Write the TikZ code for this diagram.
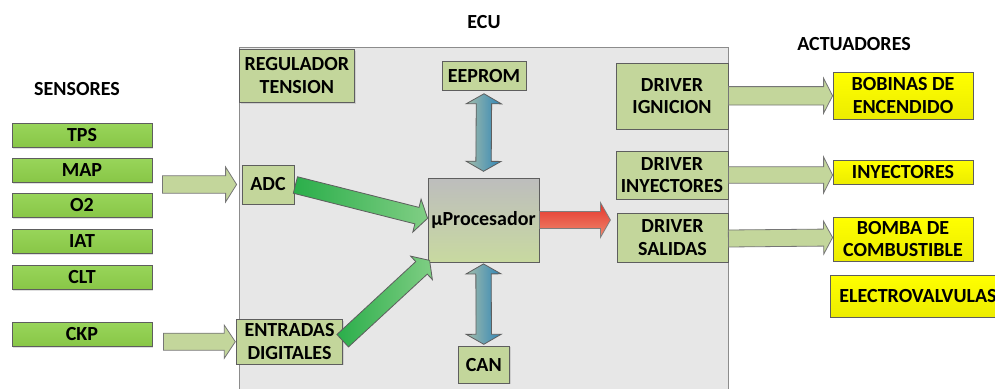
\documentclass[tikz,border=0pt]{standalone}
\usepackage{fontspec}
\setmainfont{Carlito}
\usetikzlibrary{calc,shadows}

\definecolor{ecufill}{HTML}{E7E7E7}
\definecolor{eculine}{HTML}{8C8C8C}
\definecolor{olive}{HTML}{C3D69B}
\definecolor{boxline}{HTML}{5E5E5E}
\definecolor{sensgreentop}{HTML}{98D55A}
\definecolor{sensgreenbot}{HTML}{88C646}
\definecolor{actyellow}{HTML}{FFFF00}
\definecolor{actyellowbot}{HTML}{ECEC00}
\definecolor{cpugray}{HTML}{BDBDBD}
\definecolor{cpuolive}{HTML}{C8D9A0}
\definecolor{busleft}{HTML}{A4BDAA}
\definecolor{busright}{HTML}{2F85B7}
\definecolor{gdark}{HTML}{2AAE4A}
\definecolor{glight}{HTML}{80CE84}
\definecolor{redtop}{HTML}{E4332B}
\definecolor{redbot}{HTML}{F08A6E}

% block arrow: style, start, end, shaft half-width, head half-width, head length
\newcommand\blockarrow[6]{%
  \coordinate (ba-s) at #2;
  \coordinate (ba-e) at #3;
  \coordinate (ba-h) at ($(ba-e)!#6!(ba-s)$);
  \path[#1] ($(ba-s)!#4!90:(ba-e)$) -- ($(ba-h)!#4!90:(ba-e)$)
    -- ($(ba-h)!#5!90:(ba-e)$) -- (ba-e) -- ($(ba-h)!#5!-90:(ba-e)$)
    -- ($(ba-h)!#4!-90:(ba-e)$) -- ($(ba-s)!#4!-90:(ba-e)$) -- cycle;
}
% double-headed block arrow, same arguments
\newcommand\dblockarrow[6]{%
  \coordinate (da-s) at #2;
  \coordinate (da-e) at #3;
  \coordinate (da-h) at ($(da-e)!#6!(da-s)$);
  \coordinate (da-g) at ($(da-s)!#6!(da-e)$);
  \path[#1] (da-s) -- ($(da-g)!#5!90:(da-e)$) -- ($(da-g)!#4!90:(da-e)$)
    -- ($(da-h)!#4!90:(da-e)$) -- ($(da-h)!#5!90:(da-e)$) -- (da-e)
    -- ($(da-h)!#5!-90:(da-e)$) -- ($(da-h)!#4!-90:(da-e)$)
    -- ($(da-g)!#4!-90:(da-e)$) -- ($(da-g)!#5!-90:(da-e)$) -- cycle;
}

\tikzset{
  txt/.style={font=\bfseries\fontsize{20}{22.6}\selectfont, align=center, text=black},
  basebox/.style={txt, draw=boxline, line width=0.8pt, inner sep=0pt,
    drop shadow={shadow xshift=1.2pt, shadow yshift=-1.2pt, opacity=0.25}},
  sensorbox/.style={basebox, top color=sensgreentop, bottom color=sensgreenbot,
    minimum width=140pt, minimum height=24.5pt},
  olivebox/.style={basebox, fill=olive},
  actbox/.style={basebox, top color=actyellow, bottom color=actyellowbot, minimum width=140pt},
  cpubox/.style={basebox, top color=cpugray, bottom color=cpuolive},
  olivearrow/.style={draw=boxline!85, line width=0.8pt, fill=olive},
  greenarrow/.style={draw=boxline, line width=0.8pt, left color=gdark, right color=glight},
  busarrow/.style={draw=boxline, line width=0.8pt, left color=busleft, right color=busright},
  redarrow/.style={draw=boxline!80, line width=0.8pt, top color=redtop, bottom color=redbot},
  title/.style={txt}
}

\begin{document}
\begin{tikzpicture}[x=1pt,y=-1pt]
\useasboundingbox (0,0) rectangle (995,388);

% ECU housing
\node[draw=eculine, fill=ecufill, line width=0.8pt, minimum width=489pt, minimum height=360pt,
      inner sep=0pt, anchor=north west] (ecu) at (239,47) {};

% headings
\node[title] (hsens) at (77,89) {SENSORES};
\node[title] (hecu)  at (484,22) {ECU};
\node[title] (hact)  at (854,44) {ACTUADORES};

% sensors
\node[sensorbox] (tps) at (82,135.5) {TPS};
\node[sensorbox] (map) at (82,170.5) {MAP};
\node[sensorbox] (o2)  at (82,205.5) {O2};
\node[sensorbox] (iat) at (82,241.3) {IAT};
\node[sensorbox] (clt) at (82,277.5) {CLT};
\node[sensorbox] (ckp) at (82,334.5) {CKP};

% ECU blocks
\node[olivebox, minimum width=115pt, minimum height=53pt] (reg) at (296.8,75.8) {REGULADOR\\TENSION};
\node[olivebox, minimum width=52pt, minimum height=39pt] (adc) at (268,184.5) {ADC};
\node[olivebox, minimum width=84pt, minimum height=28.5pt] (eeprom) at (484,75.8) {EEPROM};
\node[cpubox, minimum width=111pt, minimum height=84pt] (cpu) at (483.5,220) {µProcesador};
\node[olivebox, minimum width=51pt, minimum height=37pt] (can) at (483.8,364.7) {CAN};
\node[olivebox, minimum width=105.6pt, minimum height=44.7pt] (dig) at (289.5,341.7) {ENTRADAS\\DIGITALES};
\node[olivebox, minimum width=112pt, minimum height=66pt] (dign) at (672,96) {DRIVER\\IGNICION};
\node[olivebox, minimum width=112pt, minimum height=48pt] (dinj) at (672,175) {DRIVER\\INYECTORES};
\node[olivebox, minimum width=111pt, minimum height=49pt] (dsal) at (672.5,237.5) {DRIVER\\SALIDAS};

% actuators
\node[actbox, minimum height=47pt] (bob) at (903,95.5) {BOBINAS DE\\ENCENDIDO};
\node[actbox, minimum height=23.5pt] (iny) at (903,172.5) {INYECTORES};
\node[actbox, minimum height=44pt] (bom) at (903,239) {BOMBA DE\\COMBUSTIBLE};
\node[actbox, minimum width=176pt, minimum height=42pt] (elec) at (918,296) {ELECTROVALVULAS};

% sensor inputs
\blockarrow{olivearrow}{($(map.east |- adc.west)+(10,0)$)}{($(adc.west)+(-5,0)$)}{8.7pt}{17.5pt}{11pt}
\blockarrow{olivearrow}{($(ckp.east |- dig.west)+(11,0)$)}{($(dig.west)+(-1,0)$)}{8.5pt}{16.5pt}{11pt}

% converters to processor
\blockarrow{greenarrow}{($(adc.east)+(1,0.5)$)}{($(cpu.west)+(0,-1.7)$)}{8.5pt}{17pt}{11pt}
\blockarrow{greenarrow}{($(dig.east)+(0,-1)$)}{($(cpu.south west)+(2,-2)$)}{8.5pt}{16pt}{11pt}

% memory and bus links
\dblockarrow{busarrow}{($(eeprom.south)+(0,3.3)$)}{($(cpu.north)+(0,-6.3)$)}{7.7pt}{17.5pt}{10pt}
\dblockarrow{busarrow}{($(cpu.south)+(0,1.5)$)}{($(can.north)+(0,-1.5)$)}{7.7pt}{17.5pt}{10pt}

% processor to output drivers
\blockarrow{redarrow}{(cpu.east)}{($(cpu.east)+(71,0)$)}{8.5pt}{17.5pt}{10pt}

% drivers to actuators
\blockarrow{olivearrow}{($(dign.east)+(0,-0.2)$)}{($(bob.west)+(0,0.3)$)}{9.2pt}{17.5pt}{9pt}
\blockarrow{olivearrow}{(dinj.east)}{(iny.west |- dinj.east)}{8.2pt}{18pt}{9pt}
\blockarrow{olivearrow}{($(dsal.east)+(0,1)$)}{(bom.west |- dsal.east)}{8.5pt}{16.5pt}{9pt}
\end{tikzpicture}
\end{document}
